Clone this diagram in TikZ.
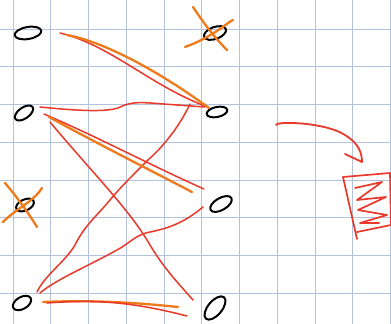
\documentclass[tikz,border=0pt]{standalone}
\usepackage{tikz}
\usetikzlibrary{shapes.geometric,calc}
\usepackage{xcolor}
\definecolor{gridblue}{HTML}{B3C3DE}
\definecolor{penred}{HTML}{E8392A}
\definecolor{penorange}{HTML}{EF7A1A}

\begin{document}
\begin{tikzpicture}[x=1pt,y=-1pt,line cap=round,line join=round,
  vtx/.style={ellipse,draw=black,line width=2pt,inner sep=0pt},
  gridln/.style={gridblue,line width=0.9pt},
  redln/.style={penred,line width=1.5pt},
  orgln/.style={penorange,line width=2.3pt}]
\useasboundingbox[fill=white] (0,0) rectangle (391,324);
\foreach \gx in {13,50.75,...,391} \draw[gridln] (\gx,0) -- (\gx,324);
\foreach \gy in {29,66.75,...,324} \draw[gridln] (0,\gy) -- (391,\gy);
\node[vtx,minimum width=27pt,minimum height=12pt,rotate=10] (a1) at (28,33) {};
\node[vtx,minimum width=21pt,minimum height=11pt,rotate=35] (a2) at (24,113) {};
\node[vtx,minimum width=19pt,minimum height=11pt,rotate=25] (a3) at (25,205) {};
\node[vtx,minimum width=20pt,minimum height=12pt,rotate=30] (a4) at (22,303) {};
\node[vtx,minimum width=23pt,minimum height=12pt,rotate=20] (b1) at (215,33) {};
\node[vtx,minimum width=21pt,minimum height=10pt,rotate=12] (b2) at (217,112) {};
\node[vtx,minimum width=24pt,minimum height=12pt,rotate=30] (b3) at (221,204) {};
\node[vtx,minimum width=28pt,minimum height=14pt,rotate=50] (b4) at (215,308) {};
\draw[redln] ($(a1)+(32,0)$) .. controls (110,45) and (150,85) .. ($(b2)+(-12,-6)$);
\draw[orgln] ($(a1)+(39,2)$) .. controls (105,42) and (160,72) .. ($(b2)+(-8,-4)$);
\draw[redln] ($(a2)+(16,-6)$) .. controls (80,111) and (105,112) .. (118,108) .. controls (128,103) and (135,102) .. (150,103) -- ($(b2)+(-12,-5)$);
\draw[redln] ($(b2)+(-27,-8)$) .. controls (180,125) and (165,145) .. (148,160) .. controls (130,178) and (118,190) .. (110,200) .. controls (95,218) and (85,225) .. (75,245) .. controls (65,262) and (45,275) .. ($(a4)+(15,-11)$);
\draw[redln] ($(a2)+(20,1)$) .. controls (100,138) and (150,165) .. ($(b3)+(-17,-15)$);
\draw[orgln] ($(a2)+(25,4)$) .. controls (100,145) and (150,170) .. ($(b3)+(-29,-12)$);
\draw[redln] ($(a2)+(26,9)$) .. controls (90,170) and (130,210) .. (150,245) .. controls (165,270) and (180,285) .. ($(b4)+(-22,-8)$);
\draw[redln] ($(a4)+(18,-10)$) .. controls (55,280) and (90,265) .. (117,250) .. controls (130,243) and (135,235) .. (150,232) .. controls (170,228) and (185,222) .. ($(b3)+(-18,3)$);
\draw[orgln] ($(a4)+(21,-1)$) .. controls (90,300) and (130,302) .. ($(b4)+(-37,-1)$);
\draw[redln] ($(a4)+(25,0)$) .. controls (90,300) and (125,300) .. ($(b4)+(-28,8)$);
\draw[orgln] ($(b1)+(-22,-26)$) .. controls ($(b1)+(-10,-8)$) and ($(b1)+(0,5)$) .. ($(b1)+(12,17)$);
\draw[orgln] ($(b1)+(-30,14)$) .. controls ($(b1)+(-5,5)$) and ($(b1)+(10,-8)$) .. ($(b1)+(16,-12)$) -- ($(b1)+(18,-13)$);
\draw[orgln] ($(a3)+(-20,-22)$) .. controls ($(a3)+(-8,-8)$) and ($(a3)+(2,6)$) .. ($(a3)+(12,22)$);
\draw[orgln] ($(a3)+(-22,17)$) .. controls ($(a3)+(-8,3)$) and ($(a3)+(8,-3)$) .. ($(a3)+(17,-17)$);
\draw[penred,line width=1.8pt] (276,125) .. controls (276,121) and (325,122) .. (345,135) .. controls (358,143) and (362,152) .. (362,162) -- (345,154);
\draw[penred,line width=1.7pt] (357,239) -- (343,177) -- (390,173) -- (391,225) -- (357,232);
\draw[penred,line width=1.7pt] (355,188) -- (382,182) -- (357,200) -- (386,197) -- (358,210) -- (387,215) -- (360,223) -- (379,223);
\end{tikzpicture}
\end{document}
